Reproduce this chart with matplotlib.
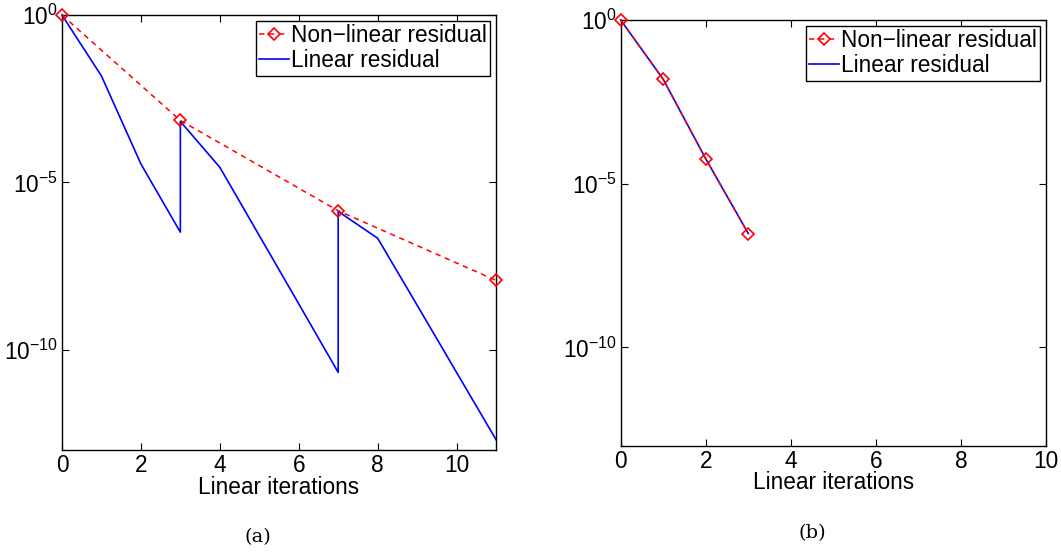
import matplotlib
matplotlib.use("Agg")
import matplotlib.pyplot as plt
import numpy as np

plt.rcParams['font.family'] = ['Liberation Sans', 'DejaVu Sans']
plt.rcParams['mathtext.fontset'] = 'custom'
plt.rcParams['mathtext.rm'] = 'Liberation Sans'
plt.rcParams['mathtext.it'] = 'Liberation Sans'
plt.rcParams['mathtext.default'] = 'regular'

# ---- data (a) ----
a_nl_x = [0, 3, 7, 11]
a_nl_y = [1e0, 10**-3.15, 10**-5.85, 10**-7.93]
a_lin_x = [0, 1, 2, 3, 3, 4, 5, 6, 7, 7, 8, 9, 10, 11]
a_lin_y = [1e0, 10**-1.82, 10**-4.45, 10**-6.49, 10**-3.18, 10**-4.55,
           10**-6.59, 10**-8.63, 10**-10.68, 10**-5.87, 10**-6.67,
           10**-8.67, 10**-10.68, 10**-12.69]

# ---- data (b) ----
b_nl_x = [0, 1, 2, 3]
b_nl_y = [1e0, 10**-1.81, 10**-4.24, 10**-6.52]
b_lin_x = [0, 1, 2, 3]
b_lin_y = [1e0, 10**-1.81, 10**-4.24, 10**-6.52]

x_ticks = [0, 2, 4, 6, 8, 10]
y_ticks = [1e-10, 1e-5, 1e0]
labels = ['Non\u2212linear residual', 'Linear residual']
fs = 16.3

fig = plt.figure(figsize=(10.61, 5.56), dpi=100)
ax1 = fig.add_axes([0.0584, 0.1906, 0.4091, 0.7824])
ax2 = fig.add_axes([0.585, 0.1984, 0.4009, 0.7656])


def style(ax, xmax):
    ax.set_yscale('log')
    ax.set_xlim(0, xmax)
    ax.set_ylim(1e-13, 1e0)
    ax.set_xticks(x_ticks)
    ax.set_yticks(y_ticks)
    ax.minorticks_off()
    ax.yaxis.set_minor_locator(matplotlib.ticker.NullLocator())
    ax.tick_params(direction='in', top=True, right=True, length=5,
                   width=0.8, labelsize=fs, pad=3)
    for s in ax.spines.values():
        s.set_linewidth(1.0)
    ax.set_xlabel('Linear iterations', fontsize=fs, labelpad=-1)
    ax.set_facecolor('white')


for ax, nx, ny, lx, ly, xmax in [(ax1, a_nl_x, a_nl_y, a_lin_x, a_lin_y, 11),
                                (ax2, b_nl_x, b_nl_y, b_lin_x, b_lin_y, 10)]:
    ax.plot(nx, ny, color='red', linestyle=(0, (3.5, 3.0)), linewidth=1.1,
            marker='D', markersize=6, markerfacecolor='none',
            markeredgecolor='red', markeredgewidth=1.2, label=labels[0],
            clip_on=False, zorder=3)
    ax.plot(lx, ly, color='blue', linewidth=1.2, label=labels[1],
            clip_on=False, zorder=2)
    style(ax, xmax)
    leg = ax.legend(loc='upper right', fontsize=fs, handlelength=1.3,
                    handletextpad=0.1, borderpad=0.15, labelspacing=0.1,
                    borderaxespad=0.25, fancybox=False, framealpha=1,
                    edgecolor='black')
    leg.get_frame().set_linewidth(1.0)

fig.text(0.243, 0.034, '(a)', fontsize=14, family='DejaVu Serif',
         ha='center', va='center')
fig.text(0.766, 0.041, '(b)', fontsize=14, family='DejaVu Serif',
         ha='center', va='center')

fig.savefig('out.png', dpi=100, facecolor='white')
